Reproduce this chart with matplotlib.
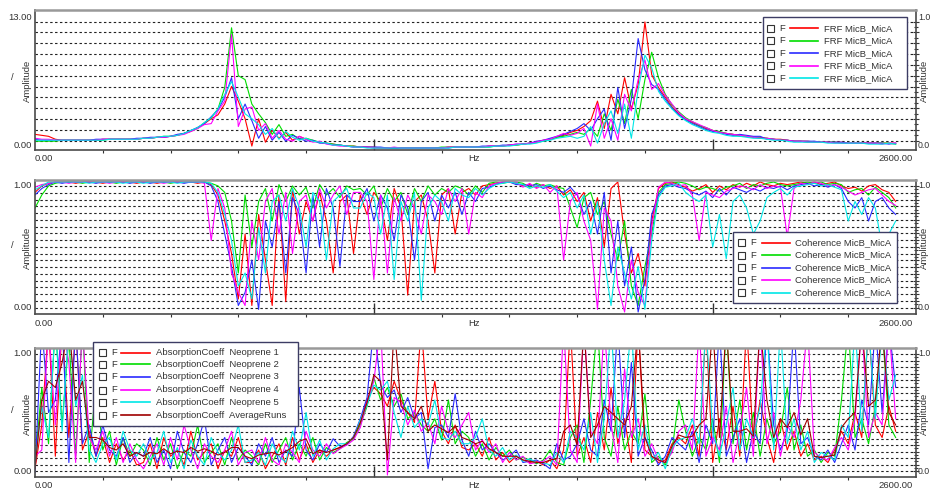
import matplotlib.pyplot as plt
import numpy as np
from matplotlib.lines import Line2D
from matplotlib.patches import Rectangle

plt.rcParams["font.family"] = ["Liberation Sans", "DejaVu Sans"]

W, H = 930, 493
FONT = 6.8
TXT = "#333333"
FREQ_STEP_HZ = 20

# FRF MicB_MicA magnitude, in tenths (five runs), 0..2540 Hz every 20 Hz
frf_red = [14, 13, 12, 9, 8, 8, 8, 8, 8, 8, 9, 9, 9, 9, 9, 9,
           10, 10, 11, 11, 12, 13, 15, 17, 21, 25, 30, 34, 45, 63, 48, 30,
           2, 30, 6, 18, 10, 16, 8, 12, 9, 7, 6, 5, 4, 3, 2, 2,
           1, 1, 1, 0, 0, 0, 0, 0, 0, 0, 0, 0, 0, 1, 1, 1,
           1, 1, 1, 2, 2, 2, 3, 3, 4, 5, 6, 8, 9, 11, 13, 16,
           18, 22, 28, 48, 20, 55, 35, 72, 40, 65, 129, 75, 62, 52, 42, 35,
           30, 26, 23, 20, 18, 16, 15, 14, 13, 12, 11, 11, 10, 9, 9, 8,
           7, 7, 7, 6, 6, 6, 6, 6, 5, 5, 5, 5, 5, 5, 5, 5]
frf_green = [7, 7, 7, 7, 8, 8, 8, 8, 8, 8, 8, 9, 9, 9, 9, 9,
             10, 10, 11, 12, 12, 13, 15, 18, 20, 26, 31, 40, 62, 123, 74, 70,
             45, 35, 26, 14, 24, 12, 14, 9, 10, 8, 6, 5, 4, 3, 2, 2,
             1, 1, 0, 0, 0, 0, 0, 0, 0, 0, 0, 0, 1, 1, 1, 1,
             1, 1, 1, 1, 2, 2, 3, 3, 4, 5, 6, 7, 9, 11, 12, 14,
             16, 14, 20, 12, 35, 18, 50, 25, 60, 30, 70, 98, 72, 55, 44, 37,
             31, 27, 23, 21, 18, 17, 15, 14, 12, 12, 11, 10, 10, 9, 8, 8,
             7, 7, 6, 6, 6, 6, 6, 5, 5, 5, 5, 5, 5, 5, 5, 4]
frf_blue = [9, 8, 8, 8, 8, 8, 8, 8, 8, 9, 9, 9, 9, 9, 9, 10,
            10, 11, 11, 11, 12, 14, 15, 18, 21, 25, 32, 39, 52, 72, 30, 45,
            28, 10, 22, 8, 16, 7, 13, 10, 7, 8, 5, 5, 3, 3, 2, 1,
            1, 1, 1, 1, 0, 0, 0, 0, 0, 0, 0, 0, 0, 0, 1, 1,
            1, 1, 2, 2, 2, 3, 3, 4, 4, 5, 7, 8, 10, 12, 14, 17,
            20, 25, 18, 30, 40, 8, 62, 20, 50, 112, 80, 65, 60, 50, 41, 34,
            29, 25, 22, 19, 17, 16, 14, 13, 14, 13, 12, 12, 9, 9, 8, 8,
            7, 7, 7, 7, 6, 6, 6, 6, 5, 5, 5, 5, 5, 5, 4, 5]
frf_magenta = [10, 9, 9, 8, 8, 8, 8, 8, 8, 8, 9, 9, 9, 9, 9, 9,
               10, 10, 11, 11, 12, 13, 14, 17, 20, 24, 25, 38, 48, 116, 22, 40,
               42, 18, 25, 10, 18, 9, 7, 12, 9, 6, 7, 4, 3, 2, 2, 1,
               1, 1, 0, 0, 0, 1, 0, 0, 0, 0, 0, 0, 0, 1, 1, 1,
               1, 1, 1, 2, 2, 2, 3, 4, 4, 5, 6, 8, 9, 12, 15, 13,
               15, 20, 2, 45, 10, 30, 8, 55, 38, 70, 90, 60, 66, 54, 45, 36,
               30, 27, 24, 21, 18, 16, 15, 14, 13, 12, 11, 10, 10, 9, 8, 8,
               7, 7, 6, 6, 6, 6, 5, 5, 5, 5, 5, 5, 5, 4, 5, 5]
frf_cyan = [8, 8, 8, 8, 8, 8, 8, 8, 8, 8, 8, 9, 9, 9, 9, 9,
            10, 10, 11, 12, 12, 13, 15, 18, 21, 26, 31, 40, 55, 68, 52, 35,
            30, 24, 14, 20, 9, 17, 11, 8, 10, 7, 6, 5, 3, 3, 2, 1,
            1, 0, 0, 0, 0, 0, 0, 0, 0, 0, 0, 0, 0, 0, 1, 1,
            1, 1, 1, 1, 2, 2, 2, 3, 4, 4, 5, 7, 8, 10, 11, 12,
            10, 12, 22, 5, 25, 38, 15, 45, 10, 60, 95, 82, 58, 48, 40, 33,
            28, 24, 21, 18, 16, 15, 13, 12, 12, 11, 10, 10, 9, 8, 8, 7,
            6, 6, 6, 6, 6, 5, 5, 5, 5, 5, 5, 4, 4, 4, 5, 4]

# Coherence MicB_MicA, percent
coh_red = [92, 97, 99, 100, 100, 100, 99, 100, 100, 100, 99, 100, 100, 100, 100, 99,
           100, 100, 99, 100, 100, 100, 100, 100, 99, 100, 98, 90, 70, 45, 10, 60,
           5, 75, 40, 5, 90, 8, 95, 60, 85, 70, 92, 70, 30, 85, 90, 45,
           90, 75, 92, 85, 55, 95, 80, 13, 85, 90, 70, 30, 90, 95, 60, 92,
           95, 90, 97, 98, 99, 100, 100, 99, 97, 98, 96, 98, 95, 97, 90, 94,
           85, 92, 70, 88, 50, 95, 100, 60, 30, 45, 20, 70, 95, 99, 100, 98,
           96, 93, 95, 98, 92, 97, 94, 98, 96, 99, 97, 100, 98, 97, 99, 98,
           99, 100, 99, 100, 98, 99, 100, 97, 95, 96, 93, 97, 98, 94, 92, 85]
coh_green = [80, 90, 97, 99, 100, 100, 100, 99, 100, 100, 100, 100, 99, 100, 100, 100,
             100, 100, 100, 100, 99, 100, 100, 100, 100, 100, 99, 97, 92, 70, 30, 90,
             50, 85, 95, 70, 98, 85, 97, 90, 96, 80, 98, 90, 95, 88, 97, 94,
             95, 90, 97, 80, 95, 85, 92, 75, 95, 85, 97, 90, 95, 92, 97, 95,
             90, 97, 92, 99, 100, 99, 100, 100, 99, 96, 99, 97, 98, 96, 95, 80,
             65, 88, 92, 75, 85, 60, 40, 70, 20, 5, 35, 60, 92, 98, 99, 100,
             99, 97, 94, 96, 95, 93, 96, 97, 99, 95, 98, 97, 99, 100, 98, 97,
             98, 99, 100, 99, 100, 98, 99, 98, 92, 94, 95, 90, 96, 92, 88, 80]
coh_blue = [90, 95, 98, 100, 99, 100, 100, 100, 100, 99, 100, 100, 100, 100, 99, 100,
            100, 99, 100, 100, 100, 100, 99, 100, 100, 100, 97, 85, 60, 35, 5, 15,
            40, 2, 70, 50, 85, 30, 88, 75, 30, 90, 50, 95, 80, 35, 90, 85,
            85, 95, 70, 90, 80, 55, 90, 80, 40, 85, 92, 70, 90, 80, 92, 75,
            92, 85, 95, 96, 98, 100, 100, 98, 98, 97, 98, 95, 97, 94, 92, 96,
            90, 75, 85, 60, 92, 30, 70, 20, 50, 0, 25, 75, 90, 97, 98, 96,
            95, 92, 90, 93, 88, 95, 90, 96, 94, 92, 95, 93, 96, 95, 97, 94,
            97, 98, 99, 97, 98, 96, 98, 95, 85, 80, 88, 70, 85, 88, 80, 75]
coh_magenta = [96, 98, 99, 100, 100, 99, 100, 100, 100, 100, 100, 99, 100, 100, 100, 100,
               100, 100, 100, 99, 100, 100, 100, 100, 100, 99, 55, 95, 80, 30, 15, 5,
               70, 40, 85, 95, 60, 92, 45, 85, 90, 70, 95, 80, 90, 97, 75, 92,
               92, 85, 25, 90, 30, 88, 70, 90, 80, 60, 90, 85, 75, 95, 85, 95,
               60, 92, 88, 97, 99, 100, 100, 100, 96, 99, 95, 98, 92, 97, 40, 85,
               92, 70, 55, 2, 80, 70, 20, 0, 40, 15, 5, 65, 96, 100, 99, 97,
               98, 90, 55, 92, 90, 88, 93, 95, 97, 96, 94, 98, 95, 97, 96, 58,
               95, 99, 98, 100, 99, 97, 98, 96, 93, 90, 92, 94, 95, 90, 85, 82]
coh_cyan = [94, 97, 100, 100, 100, 100, 100, 100, 99, 100, 100, 100, 100, 99, 100, 100,
            99, 100, 100, 100, 100, 99, 100, 100, 100, 100, 99, 92, 75, 55, 20, 30,
            10, 65, 30, 85, 90, 70, 95, 80, 50, 92, 85, 40, 85, 90, 95, 80,
            80, 92, 88, 60, 90, 25, 85, 70, 92, 9, 80, 90, 85, 70, 95, 90,
            88, 95, 90, 95, 98, 99, 100, 99, 98, 95, 97, 96, 98, 93, 88, 92,
            80, 90, 60, 85, 40, 5, 50, 30, 10, 35, 2, 55, 88, 96, 97, 99,
            92, 88, 85, 90, 50, 75, 41, 85, 90, 80, 60, 70, 88, 92, 95, 90,
            96, 97, 98, 99, 97, 98, 96, 94, 70, 85, 75, 88, 80, 50, 60, 70]

# Absorption coefficient, percent (values above 100 run off the top)
abs_neo1 = [5, 40, 120, 15, 120, 30, 120, 20, 35, 15, 30, 10, 25, 12, 20, 8,
            10, 25, 5, 30, 15, 20, 8, 35, 12, 18, 25, 5, 20, 15, 30, 10,
            10, 20, 5, 15, 25, 8, 30, 12, 25, 10, 20, 15, 20, 22, 25, 30,
            42, 60, 70, 65, 55, 75, 60, 50, 42, 120, 45, 75, 35, 25, 40, 22,
            20, 25, 15, 30, 12, 18, 10, 15, 12, 10, 11, 8, 12, 5, 20, 120,
            15, 30, 10, 50, 20, 70, 25, 45, 10, 120, 20, 15, 10, 12, 25, 30,
            25, 40, 15, 120, 10, 45, 20, 55, 15, 120, 25, 60, 30, 10, 45, 20,
            35, 15, 25, 12, 15, 10, 20, 35, 25, 50, 30, 120, 40, 30, 55, 35]
abs_neo2 = [10, 70, 25, 120, 40, 110, 15, 120, 10, 75, 20, 35, 8, 30, 15, 25,
            20, 8, 30, 12, 25, 5, 20, 15, 40, 10, 18, 25, 8, 30, 12, 20,
            15, 8, 25, 10, 20, 30, 12, 25, 15, 30, 12, 22, 18, 21, 26, 29,
            40, 55, 78, 60, 70, 55, 65, 45, 50, 40, 35, 45, 28, 60, 25, 35,
            30, 15, 25, 12, 22, 15, 20, 12, 14, 12, 9, 12, 20, 10, 8, 30,
            40, 10, 60, 120, 30, 15, 55, 20, 35, 25, 65, 10, 15, 8, 20, 60,
            35, 15, 30, 20, 45, 10, 120, 25, 60, 20, 50, 15, 45, 25, 35, 70,
            20, 40, 15, 20, 10, 18, 15, 60, 120, 30, 45, 25, 55, 120, 40, 30]
abs_neo3 = [2, 120, 50, 60, 120, 10, 120, 25, 40, 15, 40, 20, 15, 30, 10, 18,
            15, 30, 10, 20, 5, 35, 18, 10, 25, 45, 8, 20, 30, 10, 22, 15,
            8, 25, 15, 30, 10, 20, 15, 70, 20, 12, 25, 18, 29, 23, 24, 31,
            45, 62, 120, 72, 62, 68, 50, 62, 45, 50, 5, 38, 40, 30, 65, 28,
            15, 35, 20, 25, 18, 12, 15, 20, 10, 11, 12, 9, 5, 25, 12, 15,
            25, 45, 20, 15, 60, 35, 120, 30, 90, 15, 30, 20, 8, 15, 30, 25,
            20, 35, 10, 40, 25, 120, 15, 30, 45, 10, 35, 25, 120, 40, 20, 35,
            120, 25, 30, 15, 12, 20, 10, 25, 40, 20, 60, 40, 120, 50, 120, 70]
abs_neo4 = [15, 20, 120, 40, 120, 90, 10, 120, 30, 20, 35, 15, 30, 10, 25, 12,
            5, 15, 25, 8, 30, 12, 40, 20, 5, 25, 15, 10, 20, 35, 8, 18,
            20, 10, 30, 12, 8, 25, 18, 10, 35, 20, 15, 25, 17, 21, 24, 28,
            38, 58, 75, 120, 0, 62, 58, 40, 52, 35, 42, 25, 55, 35, 30, 40,
            50, 20, 28, 18, 25, 10, 18, 12, 15, 9, 10, 11, 15, 8, 120, 20,
            10, 120, 35, 25, 120, 40, 10, 85, 30, 45, 15, 25, 12, 10, 18, 35,
            40, 20, 120, 15, 30, 20, 55, 10, 35, 70, 15, 120, 25, 50, 15, 40,
            30, 60, 120, 18, 14, 12, 22, 30, 20, 45, 120, 30, 50, 40, 120, 45]
abs_neo5 = [8, 55, 30, 120, 35, 120, 55, 80, 20, 10, 25, 30, 12, 35, 20, 15,
            25, 12, 18, 35, 10, 22, 5, 28, 15, 8, 30, 18, 12, 20, 40, 10,
            12, 18, 8, 25, 15, 10, 35, 20, 50, 15, 28, 12, 21, 25, 25, 30,
            44, 56, 72, 68, 75, 50, 30, 55, 38, 45, 40, 60, 30, 28, 35, 25,
            25, 30, 45, 20, 15, 22, 12, 16, 11, 13, 10, 10, 8, 18, 10, 35,
            30, 20, 50, 10, 45, 120, 30, 60, 120, 20, 40, 12, 18, 5, 22, 28,
            30, 45, 25, 120, 35, 15, 40, 70, 20, 45, 30, 55, 120, 20, 120, 25,
            45, 20, 35, 10, 18, 15, 12, 40, 30, 120, 35, 120, 45, 120, 60, 80]
abs_avg = [5, 60, 75, 70, 90, 120, 60, 75, 30, 30, 28, 22, 20, 25, 15, 18,
           15, 18, 17, 21, 17, 19, 18, 22, 19, 21, 19, 16, 18, 22, 22, 15,
           13, 16, 17, 18, 16, 19, 22, 27, 29, 17, 20, 18, 20, 22, 25, 30,
           42, 58, 80, 75, 12, 120, 55, 50, 45, 55, 35, 40, 37, 34, 39, 30,
           28, 25, 27, 21, 18, 15, 15, 15, 12, 11, 10, 10, 12, 13, 35, 40,
           24, 120, 30, 40, 55, 50, 45, 40, 55, 120, 30, 15, 12, 10, 23, 32,
           30, 31, 40, 45, 120, 30, 120, 35, 35, 37, 31, 120, 60, 30, 45, 38,
           50, 32, 45, 15, 14, 15, 16, 38, 45, 50, 120, 55, 60, 120, 50, 40]

RUN_COLORS = ["#ff0000", "#00dd00", "#2a2aff", "#ff00ff", "#00e6e6"]
AVG_COLOR = "#a00000"

FRF_LABELS = ["FRF MicB_MicA"] * 5
COH_LABELS = ["Coherence MicB_MicA"] * 5
ABS_LABELS = ["AbsorptionCoeff  Neoprene 1", "AbsorptionCoeff  Neoprene 2",
              "AbsorptionCoeff  Neoprene 3", "AbsorptionCoeff  Neoprene 4",
              "AbsorptionCoeff  Neoprene 5", "AbsorptionCoeff  AverageRuns"]


def fx(px):
    return px / W


def fy(py):
    return 1 - py / H


def make_axes(fig, left, top, right, bottom):
    return fig.add_axes([fx(left), fy(bottom), (right - left) / W, (bottom - top) / H])


def style_axes(ax, ylim, grid_lo, grid_hi, n_grid):
    ax.set_xlim(0, 2600)
    ax.set_ylim(*ylim)
    grid = np.linspace(grid_lo, grid_hi, n_grid)
    for g in grid:
        ax.axhline(g, color="#222222", lw=0.8, ls=(0, (2.2, 2.2)), zorder=0.5)
    for side in ["left", "bottom", "right"]:
        ax.spines[side].set_color("#4a4a4a")
        ax.spines[side].set_linewidth(1.2)
    ax.spines["top"].set_color("#999999")
    ax.spines["top"].set_linewidth(1.8)

    ax.set_xticks([1000, 2000])
    ax.set_xticks(np.arange(200, 2600, 200), minor=True)
    ax.tick_params(axis="x", which="major", direction="in", length=8, width=1,
                   color="#333333", labelbottom=False)
    ax.tick_params(axis="x", which="minor", direction="out", length=2, width=0.8,
                   color="#333333")
    ax.set_yticks(grid)
    mids = (grid[:-1] + grid[1:]) / 2
    ax.set_yticks(mids, minor=True)
    ax.tick_params(axis="y", which="both", left=False, right=True, labelleft=False,
                   direction="inout", length=5, width=0.8, color="#333333")
    ax.tick_params(axis="y", which="minor", length=3)


def draw_side_text(fig, top, bottom, bottom_lbl, top_lbl, y_top_lbl, y_bot_lbl, xlbl_y):
    mid = (top + bottom) / 2
    fig.text(fx(32), fy(y_top_lbl), top_lbl, ha="right", va="center", fontsize=FONT, color=TXT)
    fig.text(fx(32), fy(y_bot_lbl), bottom_lbl, ha="right", va="center", fontsize=FONT, color=TXT)
    fig.text(fx(918), fy(y_top_lbl), "1.0", ha="left", va="center", fontsize=6.3, color=TXT)
    fig.text(fx(918), fy(y_bot_lbl), "0.0", ha="left", va="center", fontsize=6.3, color=TXT)
    fig.text(fx(27), fy(mid + 1), "Amplitude", rotation=90, ha="center", va="center",
             fontsize=FONT, color=TXT)
    fig.text(fx(12), fy(mid - 2), "/", ha="center", va="center", fontsize=FONT, color=TXT)
    fig.text(fx(924), fy(mid + 1), "Amplitude", rotation=90, ha="center", va="center",
             fontsize=FONT, color=TXT)
    fig.text(fx(35), fy(xlbl_y), "0.00", ha="left", va="center", fontsize=FONT, color=TXT)
    fig.text(fx(474), fy(xlbl_y), "Hz", ha="center", va="center", fontsize=FONT, color=TXT)
    fig.text(fx(913), fy(xlbl_y), "2600.00", ha="right", va="center", fontsize=FONT, color=TXT)


def draw_legend(fig, box, rows_y, cb_x, line_x0, line_x1, text_x, labels, colors):
    x0, y0, x1, y1 = box
    fig.add_artist(Rectangle((fx(x0), fy(y1)), (x1 - x0) / W, (y1 - y0) / H,
                             transform=fig.transFigure, facecolor="white",
                             edgecolor="#3c3c64", lw=1.0, zorder=5))
    for y, lab, col in zip(rows_y, labels, colors):
        fig.add_artist(Rectangle((fx(cb_x), fy(y + 3.5)), 7 / W, 7 / H,
                                 transform=fig.transFigure, facecolor="white",
                                 edgecolor="#333333", lw=0.8, zorder=6))
        fig.text(fx(cb_x + 12), fy(y), "F", ha="left", va="center", fontsize=FONT,
                 color=TXT, zorder=6)
        fig.add_artist(Line2D([fx(line_x0), fx(line_x1)], [fy(y), fy(y)],
                              transform=fig.transFigure, color=col, lw=1.2, zorder=6))
        fig.text(fx(text_x), fy(y), lab, ha="left", va="center", fontsize=FONT,
                 color=TXT, zorder=6)


def plot_runs(ax, runs, scale, colors):
    for vals, col in zip(runs, colors):
        f = np.arange(len(vals)) * FREQ_STEP_HZ
        ax.plot(f, np.array(vals) / scale, color=col, lw=0.8, zorder=2)


fig = plt.figure(figsize=(W / 100, H / 100), dpi=100)
fig.patch.set_facecolor("white")

# panel 1: FRF
ax1 = make_axes(fig, 35, 10, 916, 150)
style_axes(ax1, (-0.2, 14.12), 0.75, 12.93, 12)
plot_runs(ax1, [frf_red, frf_green, frf_blue, frf_magenta, frf_cyan], 10.0, RUN_COLORS)
draw_side_text(fig, 10, 150, "0.00", "13.00", 18, 145, 159)
draw_legend(fig, (763, 17, 907, 89), [28.3, 40.7, 53.3, 65.7, 78.3],
            767, 790, 818, 824, FRF_LABELS, RUN_COLORS)

# panel 2: coherence
ax2 = make_axes(fig, 35, 180, 916, 314)
style_axes(ax2, (-0.0154, 1.0154), 0.033, 0.969, 19)
plot_runs(ax2, [coh_red, coh_green, coh_blue, coh_magenta, coh_cyan], 100.0, RUN_COLORS)
draw_side_text(fig, 180, 314, "0.00", "1.00", 186, 308, 323)
draw_legend(fig, (733, 232, 897, 303), [242.7, 255, 267.7, 280, 292.7],
            738, 762, 790, 795, COH_LABELS, RUN_COLORS)

# panel 3: absorption coefficient
ax3 = make_axes(fig, 35, 348, 916, 477)
style_axes(ax3, (-0.016, 1.016), 0.032, 0.968, 19)
plot_runs(ax3, [abs_neo1, abs_neo2, abs_neo3, abs_neo4, abs_neo5, abs_avg], 100.0,
          RUN_COLORS + [AVG_COLOR])
draw_side_text(fig, 348, 477, "0.00", "1.00", 354, 471, 485)
draw_legend(fig, (93, 342, 298, 426), [352.7, 364.3, 376.7, 390, 402.3, 415],
            99, 121, 150, 156, ABS_LABELS, RUN_COLORS + [AVG_COLOR])

fig.savefig("out.png", dpi=100)
